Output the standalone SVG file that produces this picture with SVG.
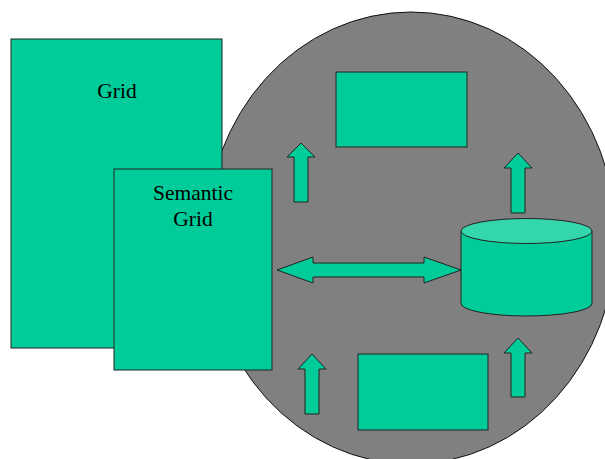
<svg xmlns="http://www.w3.org/2000/svg" width="605" height="459" viewBox="0 0 605 459">
<style>
.g{fill:#00CC99;stroke:#222;stroke-width:1}
.t{font-family:"Liberation Serif","Times New Roman",serif;font-size:21.5px;fill:#000;text-anchor:middle}
</style>
<rect width="605" height="459" fill="#fff"/>
<g id="cloud"><ellipse cx="411" cy="238" rx="205" ry="226" fill="#808080" stroke="#111" stroke-width="1"/></g>
<g id="grid"><rect class="g" x="11" y="39" width="211" height="309"/><text class="t" x="117" y="98">Grid</text></g>
<g id="semantic-grid"><rect class="g" x="114" y="169" width="158" height="201"/><text class="t" x="193" y="200">Semantic</text><text class="t" x="193" y="226">Grid</text></g>
<g id="top-box"><rect class="g" x="336" y="72" width="131" height="75"/></g>
<g id="bottom-box"><rect class="g" x="358" y="354" width="130" height="76"/></g>
<g id="database">
<path class="g" d="M461,231 V303.5 A65.5,12.5 0 0 0 592,303.5 V231"/>
<ellipse cx="526.5" cy="231" rx="65.5" ry="12.5" fill="#33D6AD" stroke="#222" stroke-width="1"/>
</g>
<g id="connectors">
<polygon class="g" points="301,143 315,157 308,157 308,202 294,202 294,157 287,157"/>
<polygon class="g" points="518,153 532,168 525,168 525,213 511,213 511,168 504,168"/>
<polygon class="g" points="312,354 326,369 319,369 319,414 305,414 305,369 298,369"/>
<polygon class="g" points="518,338 532,353 525,353 525,397 511,397 511,353 504,353"/>
<polygon class="g" points="277,270 313,257 313,263 424,263 424,257 461,270 424,283 424,277 313,277 313,283"/>
</g>
</svg>
